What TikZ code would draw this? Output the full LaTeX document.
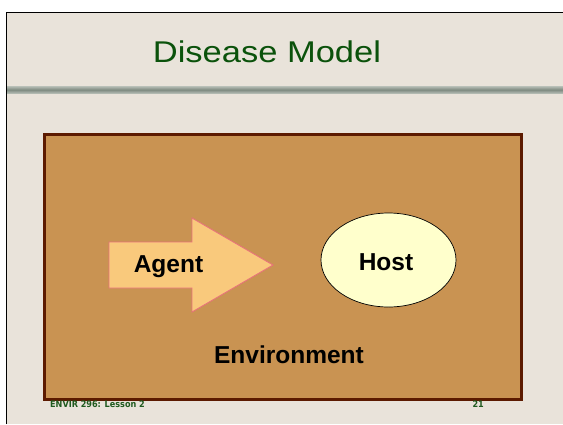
\documentclass[tikz,border=0pt]{standalone}
\usepackage{fontspec}
\setmainfont{Liberation Sans}
\newfontfamily\footfont{DejaVu Sans Condensed}
\usetikzlibrary{shapes.geometric}
\definecolor{slidebg}{HTML}{E9E3DA}
\definecolor{titlegreen}{HTML}{0B520B}
\definecolor{footgreen}{HTML}{1F5A1F}
\definecolor{envfill}{HTML}{C99352}
\definecolor{envborder}{HTML}{5C1A00}
\definecolor{agentfill}{HTML}{F9C97C}
\definecolor{agentborder}{HTML}{E8737A}
\definecolor{hostfill}{HTML}{FFFFCC}
\definecolor{barmid}{HTML}{7E8A80}
\definecolor{barlight}{HTML}{B9C0B8}
\begin{document}
\begin{tikzpicture}[x=1pt,y=-1pt,
  bigtext/.style={font=\fontsize{24.5}{28}\selectfont\bfseries, text=black, inner sep=0pt},
  foottext/.style={font=\footfont\fontsize{9}{10}\selectfont\bfseries, text=footgreen, inner sep=0pt}]
\useasboundingbox (0,0) rectangle (563,424);
\fill[white] (0,0) rectangle (563,424);
% slide background
\fill[slidebg] (6,12) rectangle (563,424);
\draw[black, line width=0.8pt] (6.4,424) -- (6.4,12.4) -- (563,12.4);
% title
\node[font=\fontsize{30}{34}\selectfont, text=titlegreen, inner sep=0pt] (title) at (267,52) {\scalebox{1.15}[1]{Disease Model}};
% separator bar
\shade[top color=barlight, bottom color=barlight, middle color=barmid] (7,86) rectangle (563,93.5);
% environment box
\node[draw=envborder, fill=envfill, line width=3pt, minimum width=477pt, minimum height=265pt, inner sep=0pt] (env) at (282.5,266.5) {};
% agent arrow
\coordinate (a1) at (109,242);
\coordinate (a2) at (192,242);
\coordinate (a3) at (192,218);
\coordinate (a4) at (273,265);
\coordinate (a5) at (192,312);
\coordinate (a6) at (192,288);
\coordinate (a7) at (109,288);
\draw[fill=agentfill, draw=agentborder, line width=0.9pt, line join=miter] (a1) -- (a2) -- (a3) -- (a4) -- (a5) -- (a6) -- (a7) -- cycle;
\node[bigtext] (agent) at (168.5,267) {Agent};
% host
\node[ellipse, draw=black, fill=hostfill, line width=0.7pt, minimum width=135pt, minimum height=94pt, inner sep=0pt] (host) at (388.5,260) {};
\node[bigtext] (hosttext) at (386,262) {Host};
% environment label
\node[bigtext] (envtext) at (289,355) {Environment};
% footer
\node[foottext, anchor=west] (foot) at (50,404.5) {ENVIR 296: Lesson 2};
\node[foottext, anchor=east] (page) at (484,404.5) {21};
\end{tikzpicture}
\end{document}
